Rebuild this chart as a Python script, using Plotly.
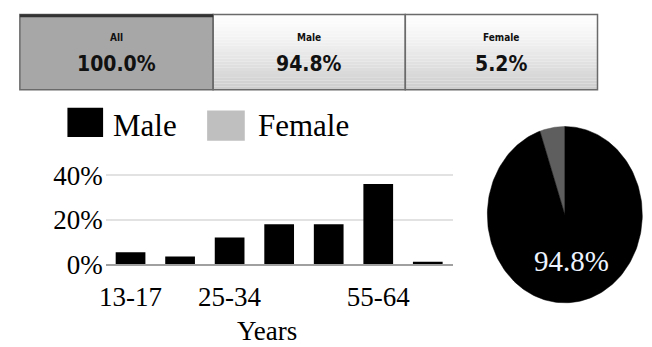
import numpy as np
import plotly.graph_objects as go

W, H = 652, 347

# Summary tabs
tab_labels = ["All", "Male", "Female"]
tab_values = [100.0, 94.8, 5.2]

# Age distribution of male users (%)
age_groups = ["13-17", "18-24", "25-34", "35-44", "45-54", "55-64", "65+"]
male_pct = [5.4, 3.4, 12.0, 17.9, 17.9, 36.0, 1.1]
shown_ticks = ["13-17", "25-34", "55-64"]
y_ticks = [0, 20, 40]

# Gender split for the pie
pie_labels = ["Male", "Female"]
pie_values = [94.8, 5.2]
pie_colors = ["#000000", "#5e5e5e"]

legend_labels = ["Male", "Female"]
legend_colors = ["#000000", "#bfbfbf"]

SERIF = "Liberation Serif, Times New Roman, serif"
NARROW = "DejaVu Sans Condensed, Liberation Sans Narrow, Arial Narrow, Liberation Sans, sans-serif"


def px(x):
    return x / W


def py(y):
    return 1 - y / H


fig = go.Figure()

# ---- bar chart ----
fig.add_trace(go.Bar(
    x=age_groups, y=male_pct, marker=dict(color="#000000", line=dict(width=0)),
    xaxis="x", yaxis="y", showlegend=False, hoverinfo="skip",
))

# ---- elliptical pie drawn as filled sectors ----
start = 90.0
acc = 0.0
total = sum(pie_values)
# female slice runs counter-clockwise from 12 o'clock, male fills the rest
order = [1, 0]
for i in order:
    a0 = start + acc / total * 360
    acc += pie_values[i]
    a1 = start + acc / total * 360
    t = np.radians(np.linspace(a0, a1, 200))
    xs = np.concatenate([[0], np.cos(t), [0]])
    ys = np.concatenate([[0], np.sin(t), [0]])
    fig.add_trace(go.Scatter(
        x=xs, y=ys, mode="lines", fill="toself", fillcolor=pie_colors[i],
        line=dict(color=pie_colors[i], width=0.5),
        xaxis="x2", yaxis="y2", showlegend=False, hoverinfo="skip",
    ))

shapes = []
annotations = []

# ---- tab strip ----
tab_x = [14, 209, 403, 597]
tab_top, tab_bot = 10, 90
n_steps = 24
for k in range(3):
    x0, x1 = tab_x[k], tab_x[k + 1]
    if k == 0:
        shapes.append(dict(type="rect", xref="paper", yref="paper",
                           x0=px(x0), x1=px(x1), y0=py(tab_bot), y1=py(tab_top),
                           fillcolor="#a7a7a7", line=dict(width=0), layer="below"))
    else:
        for s in range(n_steps):
            f = s / (n_steps - 1)
            c = int(round(253 - (253 - 205) * f ** 1.3))
            ya = tab_top + (tab_bot - tab_top) * s / n_steps
            yb = tab_top + (tab_bot - tab_top) * (s + 1) / n_steps
            shapes.append(dict(type="rect", xref="paper", yref="paper",
                               x0=px(x0), x1=px(x1), y0=py(yb), y1=py(ya),
                               fillcolor=f"rgb({c},{c},{c})", line=dict(width=0),
                               layer="below"))
    shapes.append(dict(type="rect", xref="paper", yref="paper",
                       x0=px(x0), x1=px(x1), y0=py(tab_bot), y1=py(tab_top),
                       fillcolor="rgba(0,0,0,0)", line=dict(color="#6a6a6a", width=1.5)))
    cx = (x0 + x1) / 2
    annotations.append(dict(x=px(cx), y=py(35), xref="paper", yref="paper",
                            text=f"<b>{tab_labels[k]}</b>", showarrow=False,
                            font=dict(family=NARROW, size=10, color="#111111"),
                            xanchor="center", yanchor="middle"))
    annotations.append(dict(x=px(cx), y=py(63), xref="paper", yref="paper",
                            text=f"<b>{tab_values[k]:.1f}%</b>", showarrow=False,
                            font=dict(family=NARROW, size=21, color="#111111"),
                            xanchor="center", yanchor="middle"))
# dark top edge of the selected tab
shapes.append(dict(type="line", xref="paper", yref="paper",
                   x0=px(tab_x[0]), x1=px(tab_x[1]), y0=py(11.5), y1=py(11.5),
                   line=dict(color="#333333", width=3)))

# ---- legend ----
leg_box = [(62, 109, 98, 140), (203, 112, 241, 144)]
leg_text_x = [106, 252]
for (x0, y0, x1, y1), lab, col, tx in zip(leg_box, legend_labels, legend_colors, leg_text_x):
    shapes.append(dict(type="rect", xref="paper", yref="paper",
                       x0=px(x0), x1=px(x1), y0=py(y1), y1=py(y0),
                       fillcolor=col, line=dict(width=0)))
    annotations.append(dict(x=px(tx), y=py(128), xref="paper", yref="paper",
                            text=lab, showarrow=False,
                            font=dict(family=SERIF, size=31, color="#000000"),
                            xanchor="left", yanchor="middle"))

# x-axis title
annotations.append(dict(x=px(263), y=py(346), xref="paper", yref="paper",
                        text="Years", showarrow=False,
                        font=dict(family=SERIF, size=27, color="#000000"),
                        xanchor="center", yanchor="middle"))

# pie value label
annotations.append(dict(x=0.09, y=-0.52, xref="x2", yref="y2",
                        text=f"{pie_values[0]:.1f}%", showarrow=False,
                        font=dict(family=SERIF, size=29, color="#eef4ff"),
                        xanchor="center", yanchor="middle"))

# bar plot geometry
bar_left, bar_right = 100.7, 450.7
base_y = 275.0
px_per_pct = 2.36
y_max = 44
top_y = base_y - y_max * px_per_pct

fig.update_layout(
    width=W, height=H,
    margin=dict(l=0, r=0, t=0, b=0),
    paper_bgcolor="white", plot_bgcolor="white",
    bargap=0.4,
    showlegend=False,
    xaxis=dict(
        domain=[px(bar_left), px(bar_right)],
        anchor="y",
        type="category",
        categoryorder="array", categoryarray=age_groups,
        tickmode="array", tickvals=shown_ticks, ticktext=shown_ticks,
        tickfont=dict(family=SERIF, size=27, color="#000000"),
        showgrid=False, showline=True, linecolor="#a0a0a0", linewidth=1.5,
        ticks="", zeroline=False,
        ticklabelstandoff=8,
    ),
    yaxis=dict(
        domain=[py(base_y), py(top_y)],
        anchor="x",
        range=[0, y_max],
        tickmode="array", tickvals=y_ticks,
        ticktext=[f"{v}%" for v in y_ticks],
        tickfont=dict(family=SERIF, size=27, color="#000000"),
        showgrid=True, gridcolor="#e2e2e2", gridwidth=1.5,
        zeroline=False, showline=False, ticks="",
        ticklabelstandoff=2,
    ),
    xaxis2=dict(domain=[px(485), px(643)], anchor="y2", range=[-1.01, 1.01],
                visible=False, fixedrange=True),
    yaxis2=dict(domain=[py(317), py(128)], anchor="x2", range=[-1.01, 1.01],
                visible=False, fixedrange=True),
    shapes=shapes,
    annotations=annotations,
)

fig.write_html("out.html")
